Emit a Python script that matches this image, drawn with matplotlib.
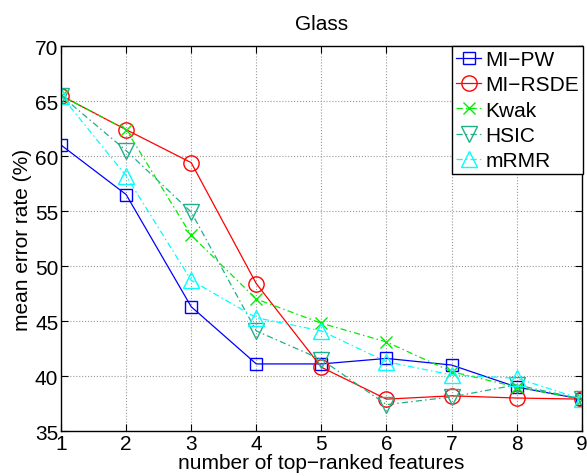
import matplotlib
matplotlib.use('Agg')
import matplotlib.pyplot as plt

plt.rcParams['font.family'] = ['Liberation Sans', 'DejaVu Sans']

# mean error rate (%) vs number of selected features, Glass dataset
n_features = [1, 2, 3, 4, 5, 6, 7, 8, 9]
mi_pw = [61.0, 56.5, 46.3, 41.1, 41.1, 41.6, 41.0, 39.0, 37.9]
mi_rsde = [65.5, 62.4, 59.4, 48.4, 40.8, 37.9, 38.2, 38.0, 37.9]
kwak = [65.5, 62.4, 52.8, 47.0, 44.8, 43.1, 40.4, 39.0, 37.9]
hsic = [65.5, 60.5, 54.9, 44.1, 41.5, 37.4, 38.1, 39.2, 37.9]
mrmr = [65.5, 58.2, 48.7, 45.3, 44.1, 41.3, 40.1, 39.8, 37.9]

fig = plt.figure(figsize=(5.87, 4.77), dpi=100)
ax = fig.add_axes([0.104, 0.0943, 0.887, 0.807])

lw = 0.9
dashdot = (0, (5, 2.5, 1.2, 2.5))
ax.plot(n_features, mi_pw, '-', color='#0000ff', marker='s', ms=9, mfc='none',
        lw=lw, mew=1.0, label='MI\u2212PW')
ax.plot(n_features, mi_rsde, '-', color='#ff0000', marker='o', ms=11, mfc='none',
        lw=lw, mew=1.0, label='MI\u2212RSDE')
ax.plot(n_features, kwak, ls=dashdot, color='#00ee00', marker='x', ms=9,
        lw=lw, mew=1.0, label='Kwak')
ax.plot(n_features, hsic, ls=dashdot, color='#1fb08a', marker='v', ms=11, mfc='none',
        lw=lw, mew=1.0, label='HSIC')
ax.plot(n_features, mrmr, ls=dashdot, color='#00ffff', marker='^', ms=11, mfc='none',
        lw=lw, mew=1.0, label='mRMR')

ax.set_xlim(1, 9)
ax.set_ylim(35, 70)
ax.set_xticks(n_features)
ax.set_yticks(range(35, 71, 5))
ax.grid(True, linestyle=':', color='#999999', linewidth=0.8)
ax.tick_params(direction='in', top=True, right=True, labelsize=15, length=5, pad=2)
for s in ax.spines.values():
    s.set_linewidth(1.0)

ax.set_title('Glass', fontsize=15, pad=12)
ax.set_xlabel('number of top\u2212ranked features', fontsize=15, labelpad=0)
ax.set_ylabel('mean error rate (%)', fontsize=15, labelpad=2)

leg = ax.legend(loc='upper right', fontsize=15, fancybox=False, framealpha=1,
                edgecolor='black', borderpad=0.2, labelspacing=0.3,
                handlelength=1.2, handletextpad=0.2, borderaxespad=0)
leg.get_frame().set_linewidth(1.0)
leg.set_bbox_to_anchor((1.003, 1.0), transform=ax.transAxes)

fig.savefig('out.png', dpi=100)
